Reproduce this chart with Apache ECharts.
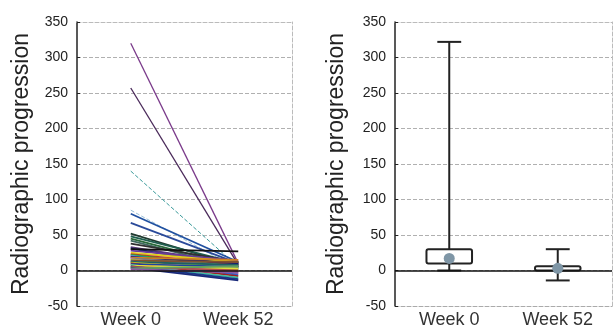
<!DOCTYPE html>
<html>
<head>
<meta charset="utf-8">
<script src="https://cdn.jsdelivr.net/npm/echarts@6/dist/echarts.min.js"></script>
<style>
html,body{margin:0;padding:0;background:#fff;}
#c{width:613px;height:331px;}
</style>
</head>
<body>
<div id="c"></div>
<script>
// ---- data ----
const categories = ['Week 0', 'Week 52'];
const yTicks = [-50, 0, 50, 100, 150, 200, 250, 300, 350];
// left panel: individual patients (Week 0 -> Week 52)
const week0Values  = [320, 257, 140, 85, 80, 67, 52, 48, 45, 42, 38, 33, 31, 30, 28, 25, 23, 22, 21, 20, 19, 18, 17, 16, 15, 14, 13, 12, 11, 10, 9, 8, 7, 6, 5, 4, 3, 2];
const week52Values = [10, 8, 5, 2, 12, 10, 6, 10, 5, 3, 12, 9, 6, 27, 14, 12, 8, 5, 2, -2, 10, 15, 6, -4, 3, 12, -6, 8, 1, -8, 5, -10, 3, -12, 0, -14, 6, -3];
const lineColors = ['#7a3a8a','#4a2a5a','#3a9a9a','#9ac0d8','#2050a0','#2a4a9a','#203a30','#1f5f4f','#2a6a3a','#406a60','#303030','#5a3a7a','#1a2a6a','#111111','#6a3a9a','#e0d020','#c03030','#30a030','#30b0d0','#b030b0','#1a1a70','#d08020','#808080','#e070a0','#90d030','#805030','#3060d0','#206060','#c0c020','#a02020','#2040a0','#40c0a0','#e0e040','#1a3a8a','#b05050','#1a2a7a','#60a060','#8a5aa0'];
// right panel: box summary
const boxMin  = [0, -14];
const boxQ1   = [10, 0];
const boxQ3   = [30, 6];
const boxMax  = [322, 30];
const meanVals = [17, 3];

const FONT = 'Liberation Sans, Arial, sans-serif';

function yAxisMain(gridIndex, gap) {
  return {
    type: 'value', gridIndex: gridIndex, min: -50, max: 350, interval: 50,
    name: 'Radiographic progression', nameLocation: 'middle', nameGap: gap,
    nameTextStyle: {fontFamily: FONT, fontSize: 23, color: '#222'},
    axisLine: {show: true, lineStyle: {color: '#222', width: 1.5}},
    axisTick: {show: true, inside: true, length: 3, lineStyle: {color: '#222'}},
    axisLabel: {fontFamily: FONT, fontSize: 14, color: '#222', margin: 9},
    splitLine: {show: true, lineStyle: {color: '#b0b0b0', type: 'dashed', width: 1}}
  };
}
function yAxisRight(gridIndex) {
  return {
    type: 'value', gridIndex: gridIndex, position: 'right', min: -50, max: 350, interval: 50,
    axisLine: {show: true, lineStyle: {color: '#bbb', type: 'dashed'}},
    axisTick: {show: false}, axisLabel: {show: false}, splitLine: {show: false}
  };
}
function xAxisMain(gridIndex) {
  return {
    type: 'category', gridIndex: gridIndex, data: categories, boundaryGap: true,
    axisLine: {show: true, onZero: false, lineStyle: {color: '#aaa', type: 'dashed'}},
    axisTick: {show: false},
    axisLabel: {fontFamily: FONT, fontSize: 18, color: '#333', margin: 5}
  };
}
function xAxisTop(gridIndex) {
  return {
    type: 'category', gridIndex: gridIndex, data: categories, position: 'top',
    axisLine: {show: true, onZero: false, lineStyle: {color: '#bbb', type: 'dashed'}},
    axisTick: {show: false}, axisLabel: {show: false}
  };
}

const series = [];
// zero line left
series.push({type: 'line', xAxisIndex: 0, yAxisIndex: 0, data: [], z: 1,
  markLine: {silent: true, symbol: 'none', label: {show: false},
    lineStyle: {color: '#111', width: 1.5, type: 'solid'}, data: [{yAxis: 0}]}});
for (let i = 0; i < week0Values.length; i++) {
  const dashed = (i === 2 || i === 3);
  series.push({
    type: 'line', xAxisIndex: 0, yAxisIndex: 0, symbol: 'none', z: 3, silent: true,
    data: [week0Values[i], week52Values[i]],
    lineStyle: {color: lineColors[i % lineColors.length], width: dashed ? 1 : (i < 2 ? 1.3 : 1.8), type: dashed ? 'dashed' : 'solid'}
  });
}
// zero line right
series.push({type: 'line', xAxisIndex: 2, yAxisIndex: 2, data: [], z: 1,
  markLine: {silent: true, symbol: 'none', label: {show: false},
    lineStyle: {color: '#111', width: 1.5, type: 'solid'}, data: [{yAxis: 0}]}});
// box summary
const boxData = categories.map((c, i) => [i, boxMin[i], boxQ1[i], boxQ3[i], boxMax[i]]);
series.push({
  type: 'custom', xAxisIndex: 2, yAxisIndex: 2, z: 3, data: boxData,
  renderItem: function (params, api) {
    const xi = api.value(0);
    const pMin = api.coord([xi, api.value(1)]);
    const pQ1 = api.coord([xi, api.value(2)]);
    const pQ3 = api.coord([xi, api.value(3)]);
    const pMax = api.coord([xi, api.value(4)]);
    const band = api.size([1, 0])[0];
    const bw = band * 0.42, cw = band * 0.22;
    const cx = pMin[0];
    const st = {stroke: '#222', lineWidth: 2, fill: null};
    return {type: 'group', children: [
      {type: 'line', shape: {x1: cx, y1: pMax[1], x2: cx, y2: pQ3[1]}, style: st},
      {type: 'line', shape: {x1: cx, y1: pQ1[1], x2: cx, y2: pMin[1]}, style: st},
      {type: 'line', shape: {x1: cx - cw / 2, y1: pMax[1], x2: cx + cw / 2, y2: pMax[1]}, style: st},
      {type: 'line', shape: {x1: cx - cw / 2, y1: pMin[1], x2: cx + cw / 2, y2: pMin[1]}, style: st},
      {type: 'rect', shape: {x: cx - bw / 2, y: pQ3[1], width: bw, height: Math.max(pQ1[1] - pQ3[1], 2), r: 2}, style: {stroke: '#222', lineWidth: 2, fill: 'rgba(255,255,255,0)'}}
    ]};
  }
});
series.push({
  type: 'scatter', xAxisIndex: 2, yAxisIndex: 2, z: 5, symbol: 'circle', symbolSize: 11,
  data: meanVals.map((v, i) => [i, v]),
  itemStyle: {color: '#7f96a6', opacity: 1}
});

const chart = echarts.init(document.getElementById('c'), null, {renderer: 'canvas'});
chart.setOption({
  animation: false,
  backgroundColor: '#fff',
  grid: [
    {left: 77, right: 321, top: 22, bottom: 25},
    {left: 77, right: 321, top: 22, bottom: 25},
    {left: 395, right: 1, top: 22, bottom: 25},
    {left: 395, right: 1, top: 22, bottom: 25}
  ],
  xAxis: [xAxisMain(0), xAxisTop(1), xAxisMain(2), xAxisTop(3)],
  yAxis: [yAxisMain(0, 44), yAxisRight(1), yAxisMain(2, 47), yAxisRight(3)],
  series: series
});
</script>
</body>
</html>
